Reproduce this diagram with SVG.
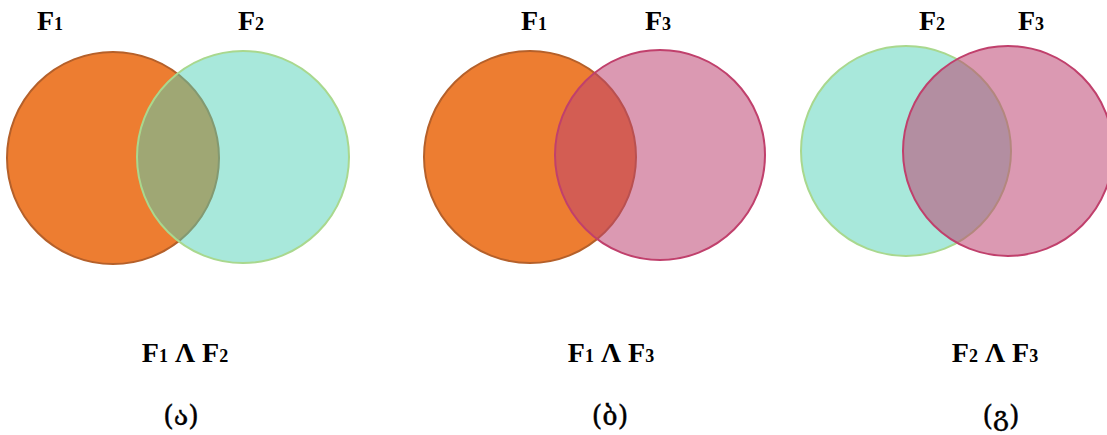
<svg xmlns="http://www.w3.org/2000/svg" width="1107" height="435" viewBox="0 0 1107 435">
<style>
.orange{fill:#ED7D31;stroke:#B5602A;stroke-width:2}
.teal{fill:#51D1B7;fill-opacity:0.5;stroke:#A9D88E;stroke-width:2}
.pink{fill:#BC4270;fill-opacity:0.54;stroke:#C0406C;stroke-width:2}
.lbl{font-family:"Liberation Serif","DejaVu Serif",serif;font-weight:bold;font-size:28px;fill:#000}
.sub{font-size:18px}
.op{font-family:"Liberation Serif","DejaVu Serif",serif;font-weight:bold;font-size:28px;fill:#000;text-anchor:middle}
.cap{font-family:"DejaVu Serif","DejaVu Sans",serif;font-size:27px;fill:#000;text-anchor:middle;stroke:#000;stroke-width:0.4}
</style>
<rect width="1107" height="435" fill="#ffffff"/>
<g id="panel-a">
<circle class="orange" cx="113" cy="158" r="106"/>
<circle class="teal" cx="243" cy="157" r="106"/>
<text class="lbl" x="37" y="30">F<tspan class="sub">1</tspan></text>
<text class="lbl" x="238" y="30">F<tspan class="sub">2</tspan></text>
<text class="op" x="185" y="362">F<tspan class="sub">1</tspan> Λ F<tspan class="sub">2</tspan></text>
<text class="cap" x="181" y="425">(ა)</text>
</g>
<g id="panel-b">
<circle class="orange" cx="530" cy="157" r="106"/>
<circle class="pink" cx="660" cy="155" r="105"/>
<text class="lbl" x="521" y="30">F<tspan class="sub">1</tspan></text>
<text class="lbl" x="645" y="30">F<tspan class="sub">3</tspan></text>
<text class="op" x="611" y="362">F<tspan class="sub">1</tspan> Λ F<tspan class="sub">3</tspan></text>
<text class="cap" x="610" y="425">(ბ)</text>
</g>
<g id="panel-c">
<circle class="teal" cx="906" cy="151" r="105"/>
<circle class="pink" cx="1008" cy="151" r="105"/>
<text class="lbl" x="919" y="30">F<tspan class="sub">2</tspan></text>
<text class="lbl" x="1018" y="30">F<tspan class="sub">3</tspan></text>
<text class="op" x="995" y="362">F<tspan class="sub">2</tspan> Λ F<tspan class="sub">3</tspan></text>
<text class="cap" x="1001" y="425">(გ)</text>
</g>
<g id="connectors"></g>
</svg>
